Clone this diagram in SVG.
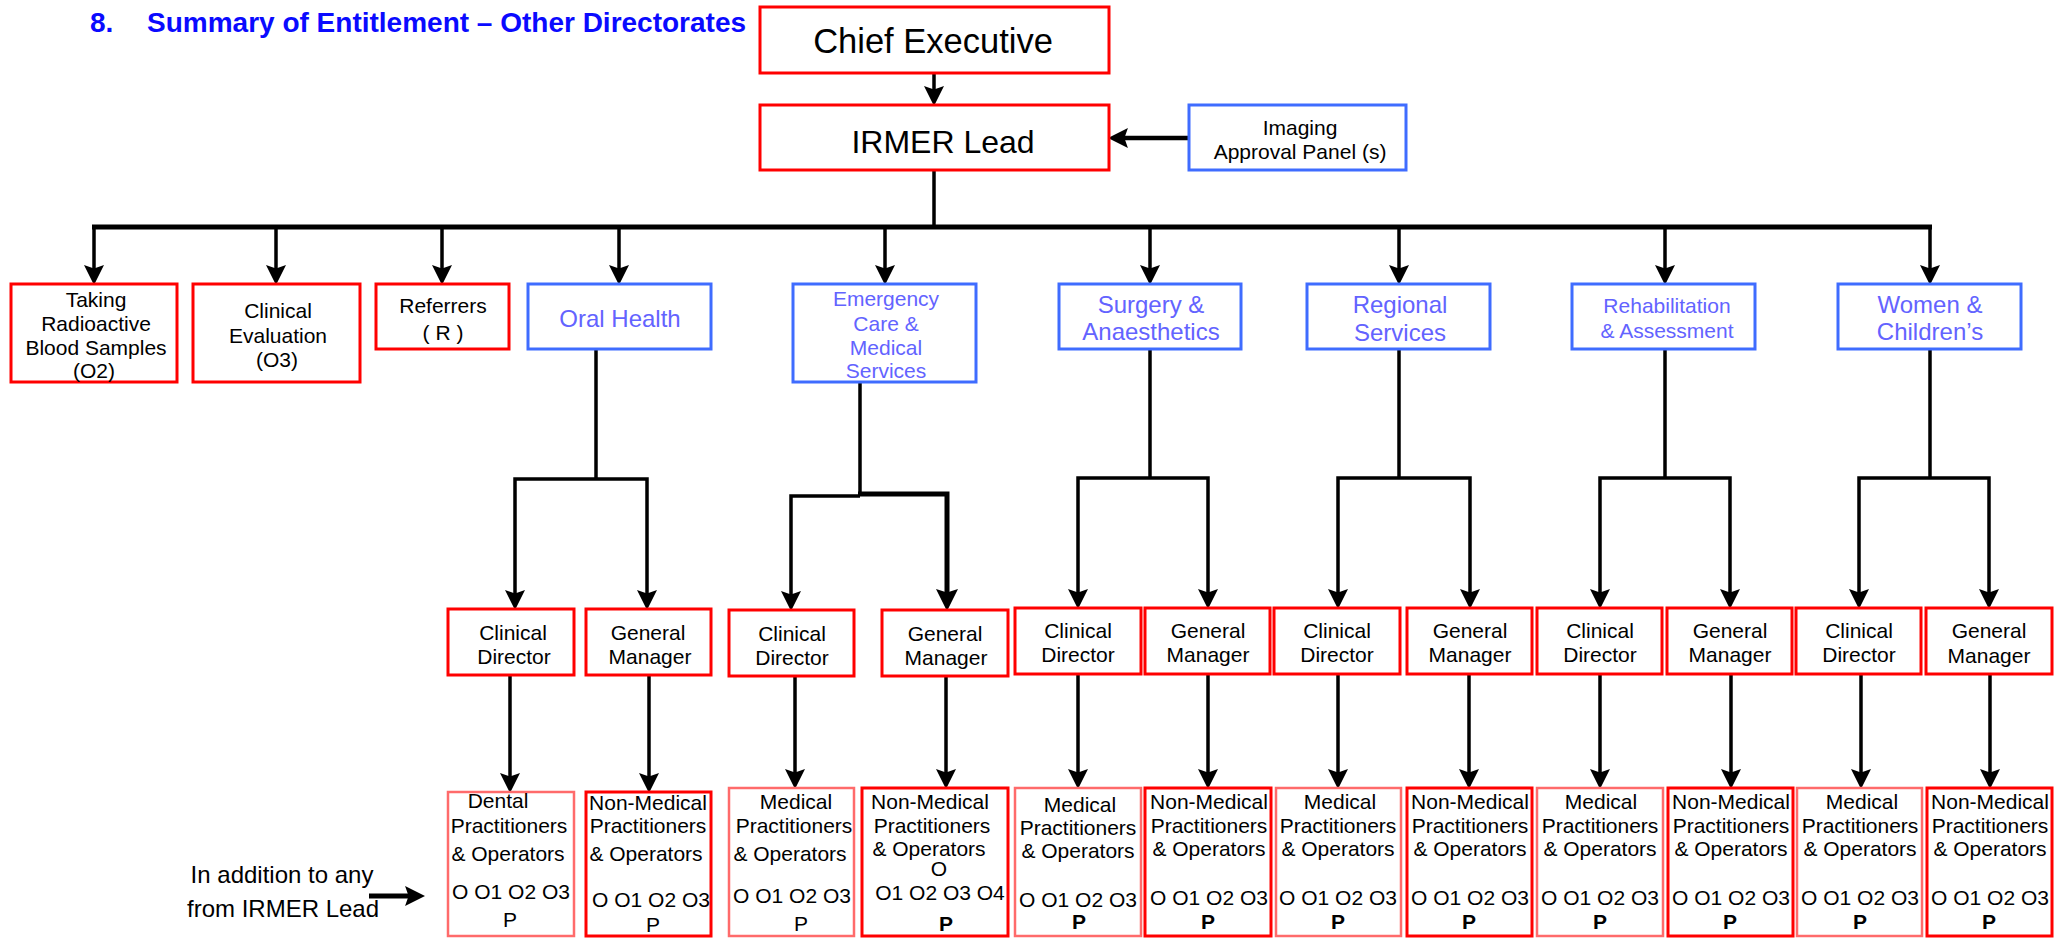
<svg xmlns="http://www.w3.org/2000/svg" width="2069" height="938" viewBox="0 0 2069 938">
<style>
text{font-family:"Liberation Sans",Arial,sans-serif;text-anchor:middle;fill:#000}
.t21{font-size:21px}
.t24{font-size:24px}
.blue{fill:#6363ff}
.r{fill:#fff;stroke:#ff0000;stroke-width:3}
.rl{fill:#fff;stroke:#ff6b6b;stroke-width:2.5}
.b{fill:#fff;stroke:#3f6cff;stroke-width:3}
.c{fill:none;stroke:#000;stroke-width:3.5;stroke-linecap:butt;stroke-linejoin:miter}
.a{marker-end:url(#ah)}
.bold{font-weight:bold}
</style>
<defs>
<marker id="ah" markerUnits="userSpaceOnUse" markerWidth="20" markerHeight="20" viewBox="0 0 17 17" refX="11" refY="8.5" orient="auto">
<path d="M0,0 L17,8.5 L0,17 L3,8.5 z" fill="#000"/>
</marker>
<marker id="ahb" markerUnits="userSpaceOnUse" markerWidth="22" markerHeight="22" viewBox="0 0 19 19" refX="12" refY="9.5" orient="auto">
<path d="M0,0 L19,9.5 L0,19 L3,9.5 z" fill="#000"/>
</marker>
</defs>
<rect width="2069" height="938" fill="#fff"/>

<g id="title">
<text x="90" y="32" style="font-size:28px;font-weight:bold;fill:#0a0aff;text-anchor:start">8.</text>
<text x="147" y="32" style="font-size:28px;font-weight:bold;fill:#0a0aff;text-anchor:start">Summary of Entitlement – Other Directorates</text>
</g>

<g id="connectors">
<line class="c a" x1="934" y1="73" x2="934" y2="99"/>
<line class="c a" x1="1190" y1="138" x2="1115" y2="138" style="stroke-width:4.5"/>
<polyline class="c" points="934,170 934,227"/>
<line x1="92" y1="227" x2="1932" y2="227" style="stroke:#000;stroke-width:5"/>
<line class="c a" x1="94" y1="227" x2="94" y2="278"/>
<line class="c a" x1="276" y1="227" x2="276" y2="278"/>
<line class="c a" x1="442" y1="227" x2="442" y2="278"/>
<line class="c a" x1="619" y1="227" x2="619" y2="278"/>
<line class="c a" x1="885" y1="227" x2="885" y2="278"/>
<line class="c a" x1="1150" y1="227" x2="1150" y2="278"/>
<line class="c a" x1="1399" y1="227" x2="1399" y2="278"/>
<line class="c a" x1="1665" y1="227" x2="1665" y2="278"/>
<line class="c a" x1="1930" y1="227" x2="1930" y2="278"/>

<!-- Oral Health -->
<line class="c" x1="596" y1="349" x2="596" y2="479"/>
<polyline class="c a" points="596,479 515,479 515,603"/>
<polyline class="c a" points="596,479 647,479 647,603"/>
<!-- Emergency -->
<line class="c" x1="860" y1="382" x2="860" y2="496"/>
<polyline class="c a" points="860,496 791,496 791,604"/>
<polyline class="c" points="858,494 947,494 947,598" style="stroke-width:5"/>
<line x1="947" y1="597" x2="947" y2="603" style="stroke:#000;stroke-width:5;marker-end:url(#ahb)"/>
<!-- Surgery -->
<line class="c" x1="1150" y1="349" x2="1150" y2="478"/>
<polyline class="c a" points="1150,478 1078,478 1078,602"/>
<polyline class="c a" points="1150,478 1208,478 1208,602"/>
<!-- Regional -->
<line class="c" x1="1399" y1="349" x2="1399" y2="478"/>
<polyline class="c a" points="1399,478 1338,478 1338,602"/>
<polyline class="c a" points="1399,478 1470,478 1470,602"/>
<!-- Rehab -->
<line class="c" x1="1665" y1="349" x2="1665" y2="478"/>
<polyline class="c a" points="1665,478 1600,478 1600,602"/>
<polyline class="c a" points="1665,478 1730,478 1730,602"/>
<!-- Women -->
<line class="c" x1="1930" y1="349" x2="1930" y2="478"/>
<polyline class="c a" points="1930,478 1859,478 1859,602"/>
<polyline class="c a" points="1930,478 1989,478 1989,602"/>

<!-- level 3 to level 4 -->
<line class="c a" x1="510" y1="675" x2="510" y2="786"/>
<line class="c a" x1="649" y1="675" x2="649" y2="786"/>
<line class="c a" x1="795" y1="676" x2="795" y2="782"/>
<line class="c a" x1="946" y1="676" x2="946" y2="782"/>
<line class="c a" x1="1078" y1="674" x2="1078" y2="782"/>
<line class="c a" x1="1208" y1="674" x2="1208" y2="782"/>
<line class="c a" x1="1338" y1="674" x2="1338" y2="782"/>
<line class="c a" x1="1469" y1="674" x2="1469" y2="782"/>
<line class="c a" x1="1600" y1="674" x2="1600" y2="782"/>
<line class="c a" x1="1731" y1="674" x2="1731" y2="782"/>
<line class="c a" x1="1861" y1="674" x2="1861" y2="782"/>
<line class="c a" x1="1990" y1="674" x2="1990" y2="782"/>

<line class="c a" x1="369" y1="896" x2="418" y2="896" style="stroke-width:5"/>
</g>

<g id="chief-executive">
<rect class="r" x="760" y="7" width="349" height="66"/>
<text x="933" y="53" style="font-size:34.5px">Chief Executive</text>
</g>
<g id="irmer-lead">
<rect class="r" x="760" y="105" width="349" height="65"/>
<text x="943" y="153" style="font-size:32px">IRMER Lead</text>
</g>
<g id="imaging-approval-panel">
<rect class="b" x="1189" y="105" width="217" height="65"/>
<text class="t21" x="1300" y="135">Imaging</text>
<text class="t21" x="1300" y="159">Approval Panel (s)</text>
</g>

<g id="taking-radioactive">
<rect class="r" x="11" y="284" width="166" height="98"/>
<text class="t21" x="96" y="307">Taking</text>
<text class="t21" x="96" y="331">Radioactive</text>
<text class="t21" x="96" y="355">Blood Samples</text>
<text class="t21" x="94" y="378">(O2)</text>
</g>
<g id="clinical-evaluation">
<rect class="r" x="193" y="284" width="167" height="98"/>
<text class="t21" x="278" y="318">Clinical</text>
<text class="t21" x="278" y="343">Evaluation</text>
<text class="t21" x="277" y="367">(O3)</text>
</g>
<g id="referrers">
<rect class="r" x="376" y="284" width="133" height="65"/>
<text class="t21" x="443" y="313">Referrers</text>
<text class="t21" x="443" y="340">( R )</text>
</g>
<g id="oral-health">
<rect class="b" x="528" y="284" width="183" height="65"/>
<text class="t24 blue" x="620" y="327">Oral Health</text>
</g>
<g id="emergency-care">
<rect class="b" x="793" y="284" width="183" height="98"/>
<text class="t21 blue" x="886" y="306">Emergency</text>
<text class="t21 blue" x="886" y="331">Care &amp;</text>
<text class="t21 blue" x="886" y="355">Medical</text>
<text class="t21 blue" x="886" y="378">Services</text>
</g>
<g id="surgery-anaesthetics">
<rect class="b" x="1059" y="284" width="182" height="65"/>
<text class="t24 blue" x="1151" y="313">Surgery &amp;</text>
<text class="t24 blue" x="1151" y="340">Anaesthetics</text>
</g>
<g id="regional-services">
<rect class="b" x="1307" y="284" width="183" height="65"/>
<text class="t24 blue" x="1400" y="313">Regional</text>
<text class="t24 blue" x="1400" y="341">Services</text>
</g>
<g id="rehabilitation-assessment">
<rect class="b" x="1572" y="284" width="183" height="65"/>
<text class="t21 blue" x="1667" y="313">Rehabilitation</text>
<text class="t21 blue" x="1667" y="338">&amp; Assessment</text>
</g>
<g id="women-childrens">
<rect class="b" x="1838" y="284" width="183" height="65"/>
<text class="t24 blue" x="1930" y="313">Women &amp;</text>
<text class="t24 blue" x="1930" y="340">Children’s</text>
</g>

<!-- level 3 -->
<g id="oral-clinical-director">
<rect class="r" x="448" y="609" width="126" height="66"/>
<text class="t21" x="513" y="640">Clinical</text>
<text class="t21" x="514" y="664">Director</text>
</g>
<g id="oral-general-manager">
<rect class="r" x="586" y="609" width="125" height="66"/>
<text class="t21" x="648" y="640">General</text>
<text class="t21" x="650" y="664">Manager</text>
</g>
<g id="emergency-clinical-director">
<rect class="r" x="729" y="610" width="125" height="66"/>
<text class="t21" x="792" y="641">Clinical</text>
<text class="t21" x="792" y="665">Director</text>
</g>
<g id="emergency-general-manager">
<rect class="r" x="882" y="610" width="126" height="66"/>
<text class="t21" x="945" y="641">General</text>
<text class="t21" x="946" y="665">Manager</text>
</g>
<g id="surgery-clinical-director">
<rect class="r" x="1015" y="608" width="126" height="66"/>
<text class="t21" x="1078" y="638">Clinical</text>
<text class="t21" x="1078" y="662">Director</text>
</g>
<g id="surgery-general-manager">
<rect class="r" x="1145" y="608" width="125" height="66"/>
<text class="t21" x="1208" y="638">General</text>
<text class="t21" x="1208" y="662">Manager</text>
</g>
<g id="regional-clinical-director">
<rect class="r" x="1274" y="608" width="126" height="66"/>
<text class="t21" x="1337" y="638">Clinical</text>
<text class="t21" x="1337" y="662">Director</text>
</g>
<g id="regional-general-manager">
<rect class="r" x="1407" y="608" width="125" height="66"/>
<text class="t21" x="1470" y="638">General</text>
<text class="t21" x="1470" y="662">Manager</text>
</g>
<g id="rehab-clinical-director">
<rect class="r" x="1537" y="608" width="125" height="66"/>
<text class="t21" x="1600" y="638">Clinical</text>
<text class="t21" x="1600" y="662">Director</text>
</g>
<g id="rehab-general-manager">
<rect class="r" x="1667" y="608" width="125" height="66"/>
<text class="t21" x="1730" y="638">General</text>
<text class="t21" x="1730" y="662">Manager</text>
</g>
<g id="women-clinical-director">
<rect class="r" x="1796" y="608" width="125" height="66"/>
<text class="t21" x="1859" y="638">Clinical</text>
<text class="t21" x="1859" y="662">Director</text>
</g>
<g id="women-general-manager">
<rect class="r" x="1926" y="608" width="126" height="66"/>
<text class="t21" x="1989" y="638">General</text>
<text class="t21" x="1989" y="663">Manager</text>
</g>

<!-- level 4 -->
<g id="oral-dental-practitioners">
<rect class="rl" x="448" y="792" width="126" height="144"/>
<text class="t21" x="498" y="808">Dental</text>
<text class="t21" x="509" y="833">Practitioners</text>
<text class="t21" x="508" y="861">&amp; Operators</text>
<text class="t21" x="511" y="899">O O1 O2 O3</text>
<text class="t21" x="510" y="927">P</text>
</g>
<g id="oral-non-medical">
<rect class="r" x="586" y="792" width="125" height="144"/>
<text class="t21" x="648" y="810">Non-Medical</text>
<text class="t21" x="648" y="833">Practitioners</text>
<text class="t21" x="646" y="861">&amp; Operators</text>
<text class="t21" x="651" y="907">O O1 O2 O3</text>
<text class="t21" x="653" y="932">P</text>
</g>
<g id="emergency-medical">
<rect class="rl" x="729" y="788" width="125" height="148"/>
<text class="t21" x="796" y="809">Medical</text>
<text class="t21" x="794" y="833">Practitioners</text>
<text class="t21" x="790" y="861">&amp; Operators</text>
<text class="t21" x="792" y="903">O O1 O2 O3</text>
<text class="t21" x="801" y="931">P</text>
</g>
<g id="emergency-non-medical">
<rect class="r" x="862" y="788" width="146" height="148"/>
<text class="t21" x="930" y="809">Non-Medical</text>
<text class="t21" x="932" y="833">Practitioners</text>
<text class="t21" x="929" y="856">&amp; Operators</text>
<text class="t21" x="939" y="876">O</text>
<text class="t21" x="940" y="900">O1 O2 O3 O4</text>
<text class="t21 bold" x="946" y="931">P</text>
</g>
<g id="surgery-medical">
<rect class="rl" x="1015" y="788" width="126" height="148"/>
<text class="t21" x="1080" y="812">Medical</text>
<text class="t21" x="1078" y="835">Practitioners</text>
<text class="t21" x="1078" y="858">&amp; Operators</text>
<text class="t21" x="1078" y="907">O O1 O2 O3</text>
<text class="t21 bold" x="1079" y="929">P</text>
</g>
<g id="surgery-non-medical">
<rect class="r" x="1145" y="788" width="126" height="148"/>
<text class="t21" x="1209" y="809">Non-Medical</text>
<text class="t21" x="1209" y="833">Practitioners</text>
<text class="t21" x="1209" y="856">&amp; Operators</text>
<text class="t21" x="1209" y="905">O O1 O2 O3</text>
<text class="t21 bold" x="1208" y="929">P</text>
</g>
<g id="regional-medical">
<rect class="rl" x="1276" y="788" width="125" height="148"/>
<text class="t21" x="1340" y="809">Medical</text>
<text class="t21" x="1338" y="833">Practitioners</text>
<text class="t21" x="1338" y="856">&amp; Operators</text>
<text class="t21" x="1338" y="905">O O1 O2 O3</text>
<text class="t21 bold" x="1338" y="929">P</text>
</g>
<g id="regional-non-medical">
<rect class="r" x="1407" y="788" width="125" height="148"/>
<text class="t21" x="1470" y="809">Non-Medical</text>
<text class="t21" x="1470" y="833">Practitioners</text>
<text class="t21" x="1470" y="856">&amp; Operators</text>
<text class="t21" x="1470" y="905">O O1 O2 O3</text>
<text class="t21 bold" x="1469" y="929">P</text>
</g>
<g id="rehab-medical">
<rect class="rl" x="1537" y="788" width="126" height="148"/>
<text class="t21" x="1601" y="809">Medical</text>
<text class="t21" x="1600" y="833">Practitioners</text>
<text class="t21" x="1600" y="856">&amp; Operators</text>
<text class="t21" x="1600" y="905">O O1 O2 O3</text>
<text class="t21 bold" x="1600" y="929">P</text>
</g>
<g id="rehab-non-medical">
<rect class="r" x="1668" y="788" width="125" height="148"/>
<text class="t21" x="1731" y="809">Non-Medical</text>
<text class="t21" x="1731" y="833">Practitioners</text>
<text class="t21" x="1731" y="856">&amp; Operators</text>
<text class="t21" x="1731" y="905">O O1 O2 O3</text>
<text class="t21 bold" x="1730" y="929">P</text>
</g>
<g id="women-medical">
<rect class="rl" x="1797" y="788" width="125" height="148"/>
<text class="t21" x="1862" y="809">Medical</text>
<text class="t21" x="1860" y="833">Practitioners</text>
<text class="t21" x="1860" y="856">&amp; Operators</text>
<text class="t21" x="1860" y="905">O O1 O2 O3</text>
<text class="t21 bold" x="1860" y="929">P</text>
</g>
<g id="women-non-medical">
<rect class="r" x="1927" y="788" width="125" height="148"/>
<text class="t21" x="1990" y="809">Non-Medical</text>
<text class="t21" x="1990" y="833">Practitioners</text>
<text class="t21" x="1990" y="856">&amp; Operators</text>
<text class="t21" x="1990" y="905">O O1 O2 O3</text>
<text class="t21 bold" x="1989" y="929">P</text>
</g>

<g id="note">
<text class="t24" x="282" y="883">In addition to any</text>
<text class="t24" x="283" y="917">from IRMER Lead</text>
</g>
</svg>
